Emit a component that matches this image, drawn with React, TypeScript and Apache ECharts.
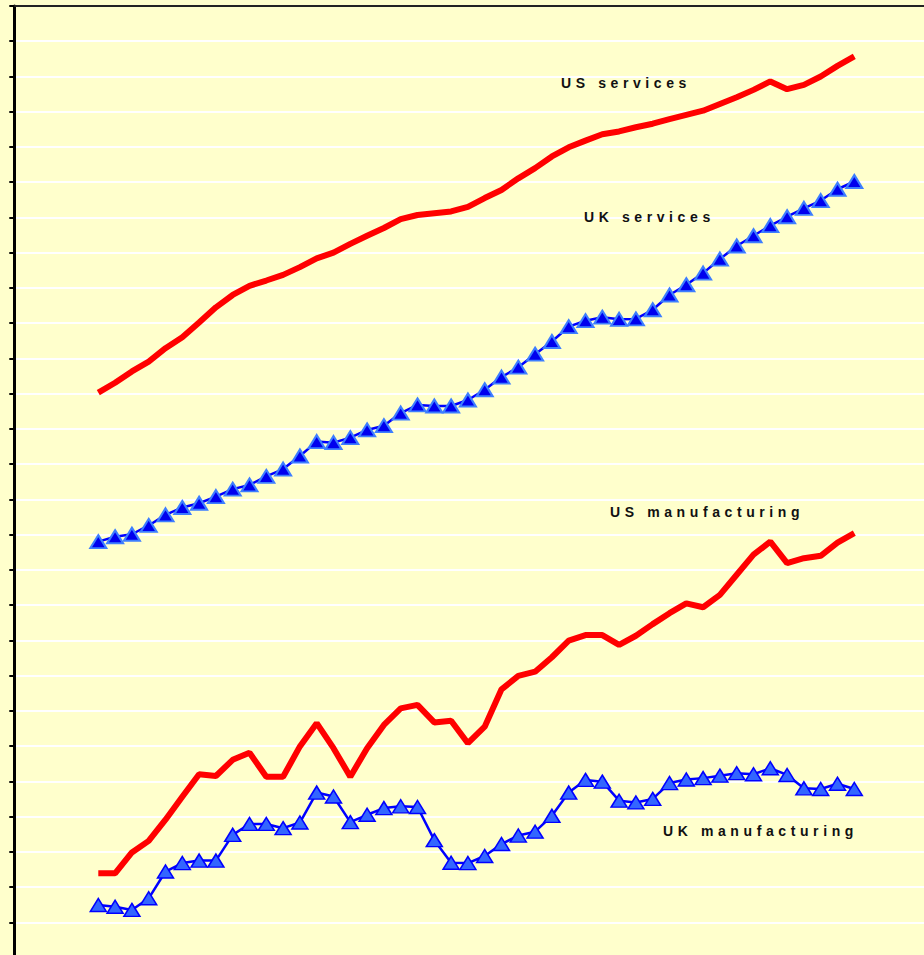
import React, { useEffect, useRef } from "react";
import * as echarts from "echarts";

// x positions: 46 periods (assumed yearly)
const periods: number[] = [
  1960, 1961, 1962, 1963, 1964, 1965, 1966, 1967, 1968, 1969,
  1970, 1971, 1972, 1973, 1974, 1975, 1976, 1977, 1978, 1979,
  1980, 1981, 1982, 1983, 1984, 1985, 1986, 1987, 1988, 1989,
  1990, 1991, 1992, 1993, 1994, 1995, 1996, 1997, 1998, 1999,
  2000, 2001, 2002, 2003, 2004, 2005,
];

// values in gridline units (y axis 0..27, one unit per gridline)
const usServices: number[] = [
  16.03, 16.31, 16.63, 16.91, 17.29, 17.6, 18.02, 18.45, 18.8, 19.06,
  19.21, 19.37, 19.59, 19.84, 20.0, 20.25, 20.48, 20.7, 20.95, 21.07,
  21.12, 21.17, 21.3, 21.55, 21.78, 22.11, 22.4, 22.73, 22.99, 23.18,
  23.36, 23.44, 23.56, 23.66, 23.79, 23.91, 24.03, 24.22, 24.41, 24.62,
  24.86, 24.64, 24.76, 25.0, 25.3, 25.57,
];

const ukServices: number[] = [
  11.8, 11.94, 12.01, 12.26, 12.56, 12.77, 12.89, 13.08, 13.29, 13.41,
  13.65, 13.86, 14.23, 14.64, 14.61, 14.75, 14.97, 15.09, 15.45, 15.68,
  15.65, 15.65, 15.82, 16.11, 16.47, 16.75, 17.12, 17.48, 17.9, 18.07,
  18.17, 18.11, 18.12, 18.38, 18.8, 19.09, 19.42, 19.82, 20.19, 20.48,
  20.77, 21.02, 21.26, 21.48, 21.8, 22.02,
];

const usManufacturing: number[] = [
  2.39, 2.39, 2.98, 3.31, 3.91, 4.56, 5.2, 5.15, 5.61, 5.81,
  5.13, 5.13, 5.99, 6.65, 5.94, 5.13, 5.94, 6.6, 7.07, 7.17,
  6.67, 6.72, 6.08, 6.55, 7.61, 7.99, 8.11, 8.52, 8.99, 9.15,
  9.15, 8.87, 9.13, 9.46, 9.77, 10.05, 9.94, 10.29, 10.86, 11.43,
  11.8, 11.19, 11.33, 11.4, 11.77, 12.04,
];

const ukManufacturing: number[] = [
  1.49, 1.44, 1.35, 1.68, 2.44, 2.68, 2.75, 2.75, 3.48, 3.79,
  3.79, 3.67, 3.83, 4.68, 4.57, 3.84, 4.05, 4.24, 4.29, 4.27,
  3.33, 2.69, 2.68, 2.88, 3.22, 3.46, 3.57, 4.02, 4.68, 5.04,
  4.99, 4.45, 4.4, 4.5, 4.95, 5.05, 5.09, 5.16, 5.23, 5.2,
  5.37, 5.18, 4.8, 4.78, 4.93, 4.78,
];

const seriesNames: string[] = [
  "US services",
  "UK services",
  "US manufacturing",
  "UK manufacturing",
];

const pair = (vals: number[]) => periods.map((p, i) => [p, vals[i]]);

export default function App() {
  const ref = useRef<HTMLDivElement>(null);

  useEffect(() => {
    if (!ref.current) return;
    const chart = echarts.init(ref.current, null, { renderer: "svg" });
    const font = "'Liberation Sans', Arial, Helvetica, sans-serif";
    const labelStyle = (text: string) => ({
      text,
      fill: "#111111",
      font: `bold 14px ${font}`,
      textAlign: "left",
      textVerticalAlign: "middle",
    });

    chart.setOption({
      animation: false,
      backgroundColor: "#FFFFCC",
      grid: {
        left: 14.3,
        top: 6,
        width: 924,
        height: 951.5,
        containLabel: false,
        outerBoundsMode: "none",
      },
      xAxis: {
        type: "value",
        position: "top",
        min: 1955,
        max: 2010,
        axisLine: { show: true, onZero: false, lineStyle: { color: "#222222", width: 2 } },
        axisTick: { show: false },
        axisLabel: { show: false },
        splitLine: { show: false },
      },
      yAxis: {
        type: "value",
        min: 0,
        max: 27,
        interval: 1,
        axisLine: { show: true, onZero: false, lineStyle: { color: "#000000", width: 3 } },
        axisTick: { show: true, length: 5, lineStyle: { color: "#000000", width: 2 } },
        axisLabel: { show: false },
        splitLine: { show: true, lineStyle: { color: "#FFFFFF", width: 2 } },
      },
      series: [
        {
          name: seriesNames[0],
          type: "line",
          data: pair(usServices),
          symbol: "none",
          lineStyle: { color: "#FF0000", width: 6 },
          z: 3,
        },
        {
          name: seriesNames[2],
          type: "line",
          data: pair(usManufacturing),
          symbol: "none",
          lineStyle: { color: "#FF0000", width: 6 },
          z: 3,
        },
        {
          name: seriesNames[1],
          type: "line",
          data: pair(ukServices),
          symbol: "triangle",
          symbolSize: [16, 13],
          showSymbol: true,
          lineStyle: { color: "#0000FF", width: 2.5 },
          itemStyle: { color: "#0000EE", borderColor: "#3D7EFF", borderWidth: 2 },
          z: 4,
        },
        {
          name: seriesNames[3],
          type: "line",
          data: pair(ukManufacturing),
          symbol: "triangle",
          symbolSize: [16, 13],
          showSymbol: true,
          lineStyle: { color: "#0000FF", width: 2.5 },
          itemStyle: { color: "#3366FF", borderColor: "#0000FF", borderWidth: 1.5 },
          z: 4,
        },
      ],
      graphic: [
        { type: "text", left: 561, top: 76, style: labelStyle(seriesNames[0]), z: 10 },
        { type: "text", left: 584, top: 210, style: labelStyle(seriesNames[1]), z: 10 },
        { type: "text", left: 610, top: 505, style: labelStyle(seriesNames[2]), z: 10 },
        { type: "text", left: 663, top: 824, style: labelStyle(seriesNames[3]), z: 10 },
      ],
    });

    return () => chart.dispose();
  }, []);

  return (
    <div
      ref={ref}
      style={{
        position: "fixed",
        left: 0,
        top: 0,
        width: 924,
        height: 955,
        letterSpacing: "4.6px",
        background: "#FFFFCC",
      }}
    />
  );
}
